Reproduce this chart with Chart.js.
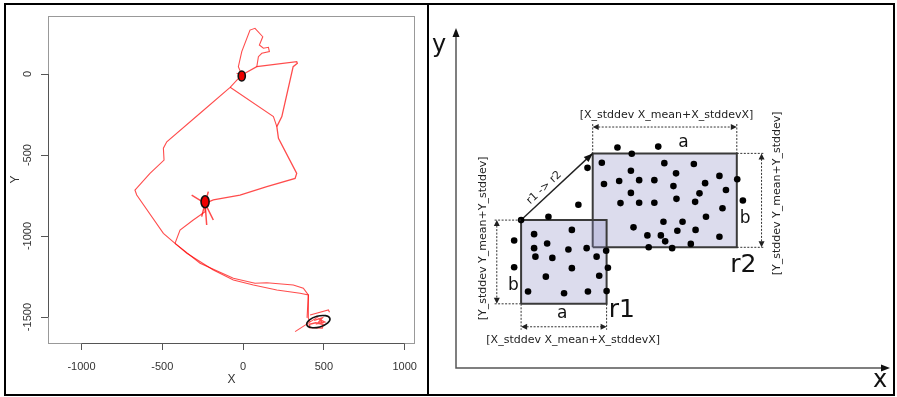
<!DOCTYPE html>
<html>
<head>
<meta charset="utf-8">
<script src="https://cdn.jsdelivr.net/npm/chart.js@4.4.1/dist/chart.umd.min.js"></script>
<style>
  body { margin: 0; background: #fff; }
  #wrap { position: relative; width: 897px; height: 397px; overflow: hidden; background: #fff; }
  #trackBox { position: absolute; left: 0; top: 0; width: 428px; height: 397px; }
  #diagramBox { position: absolute; left: 428px; top: 0; width: 469px; height: 397px; }
  .frame { position: absolute; left: 4px; top: 3px; width: 891px; height: 393px; border: 2px solid #000; box-sizing: border-box; }
  .divider { position: absolute; left: 427px; top: 3px; width: 2px; height: 393px; background: #000; }
</style>
</head>
<body>
<div id="wrap">
  <div id="trackBox"><canvas id="trackChart" width="428" height="397"></canvas></div>
  <div id="diagramBox"><canvas id="diagramChart" width="469" height="397"></canvas></div>
  <div class="frame"></div>
  <div class="divider"></div>
</div>
<script>
// ---- left panel: tracked path (X / Y units) ----
const topLoop = [[-8,-6],[-29,45],[-8,138],[43,271],[74,282],[122,230],[101,179],[126,159],[157,165],[163,138],[116,128],[95,107],[85,45]];
const eastPath = [[-8,-6],[85,45],[332,76],[336,66],[310,45],[240,-263],[209,-325],[219,-397],[332,-613],[322,-644],[147,-695],[-19,-747],[-184,-777],[-235,-798]];
const crossPath = [[-80,-82],[188,-263],[209,-325]];
const westPath = [[-8,-6],[-80,-82],[-266,-242],[-472,-418],[-493,-458],[-489,-531],[-576,-613],[-669,-716],[-658,-747],[-493,-983],[-421,-1045],[-348,-1106],[-184,-1209],[-60,-1271],[64,-1302],[209,-1333],[353,-1353],[404,-1364],[404,-1507],[415,-1530]];
const southPath = [[-421,-1045],[-266,-1168],[-60,-1261],[74,-1291],[147,-1288],[311,-1302],[373,-1322],[404,-1364],[396,-1505]];
const midBranch = [[-421,-1045],[-390,-963],[-308,-901],[-235,-850],[-235,-798]];
const midSpikes = [[-318,-747],[-235,-798],[-215,-726],[-235,-798],[-225,-932],[-235,-798],[-184,-901],[-235,-798],[-256,-880]];
const topScribble = [[-40,5],[-8,-6],[-30,-25],[-8,-6],[10,12]];
const endLines = [[322,-1590],[466,-1497]];
const endHook = [[415,-1487],[528,-1456],[535,-1470]];
const endScribble = [[440,-1520],[490,-1505],[460,-1540],[505,-1530],[475,-1515],[495,-1545],[450,-1535],[410,-1545],[412,-1565],[490,-1568],[495,-1548]];

const nodeX = [-8, -235, 466];
const nodeY = [-12, -788, -1528];
const nodeRX = [22, 25, 74];
const nodeRY = [31, 37, 34];
const nodeTilt = [0, 0, -15];
const nodeFilled = [true, true, false];

const xTicks = [-1000, -500, 0, 500, 1000];
const yTicks = [-1500, -1000, -500, 0];

// ---- right panel: two regions of points ----
const dotX = [3.72,4.66,4.05,3.36,4.80,5.48,4.03,5.07,6.07,6.48,3.41,3.76,4.22,4.57,5.01,5.74,4.03,5.61,6.22,3.79,4.22,4.57,5.08,5.51,6.61,6.14,5.76,4.78,5.22,4.09,4.41,4.72,5.10,5.52,6.07,4.82,4.44,4.98,5.41,3.03,2.82,2.13,1.50,1.80,2.67,1.34,2.10,1.80,2.59,3.01,3.46,3.24,1.83,2.22,3.50,1.34,2.67,2.07,3.30,1.66,2.49,3.04,3.47];
const dotY = [5.19,5.21,5.04,4.83,4.82,4.80,4.64,4.58,4.52,4.44,4.33,4.40,4.42,4.42,4.28,4.35,4.12,4.11,4.19,3.88,3.89,3.89,3.98,3.91,3.94,3.76,3.56,3.44,3.44,3.31,3.12,3.12,3.23,3.25,3.09,2.98,2.84,2.82,2.92,4.71,3.84,3.56,3.48,3.15,3.25,3.00,2.93,2.82,2.79,2.82,2.76,2.62,2.62,2.59,2.36,2.37,2.35,2.15,2.17,1.80,1.76,1.80,1.81];
const rectNames = ['r1', 'r2'];
const rectX0 = [1.50, 3.15];
const rectX1 = [3.47, 6.47];
const rectY0 = [1.51, 2.84];
const rectY1 = [3.48, 5.05];

const toXY = pts => pts.map(p => ({ x: p[0], y: p[1] }));

// R-like frame, rotated y labels and the region ellipses
const rFrame = {
  id: 'rFrame',
  afterDatasetsDraw(chart) {
    const { ctx, scales: { x, y } } = chart;
    ctx.save();
    for (let i = 0; i < nodeX.length; i++) {
      const cx = x.getPixelForValue(nodeX[i]);
      const cy = y.getPixelForValue(nodeY[i]);
      const rx = Math.abs(x.getPixelForValue(nodeX[i] + nodeRX[i]) - cx);
      const ry = Math.abs(y.getPixelForValue(nodeY[i] + nodeRY[i]) - cy);
      ctx.beginPath();
      ctx.ellipse(cx, cy, rx, ry, nodeTilt[i] * Math.PI / 180, 0, Math.PI * 2);
      if (nodeFilled[i]) { ctx.fillStyle = '#ee0000'; ctx.fill(); }
      ctx.lineWidth = 1.6;
      ctx.strokeStyle = '#111';
      ctx.stroke();
    }
    ctx.restore();
  },
  afterDraw(chart) {
    const { ctx, chartArea: ca, scales: { x, y } } = chart;
    ctx.save();
    ctx.strokeStyle = '#999';
    ctx.lineWidth = 1;
    ctx.strokeRect(ca.left + 0.5, ca.top + 0.5, ca.right - ca.left - 1, ca.bottom - ca.top);
    ctx.strokeStyle = '#555';
    ctx.beginPath();
    ctx.moveTo(x.getPixelForValue(xTicks[0]), ca.bottom + 0.5);
    ctx.lineTo(x.getPixelForValue(xTicks[xTicks.length - 1]), ca.bottom + 0.5);
    ctx.moveTo(ca.left + 0.5, y.getPixelForValue(yTicks[0]));
    ctx.lineTo(ca.left + 0.5, y.getPixelForValue(yTicks[yTicks.length - 1]));
    ctx.stroke();
    ctx.fillStyle = '#333';
    ctx.font = '11px "Liberation Sans", Arial, sans-serif';
    ctx.textAlign = 'center';
    ctx.textBaseline = 'middle';
    y.ticks.forEach(t => {
      ctx.save();
      ctx.translate(28, y.getPixelForValue(t.value));
      ctx.rotate(-Math.PI / 2);
      ctx.fillText(String(t.value), 0, 0);
      ctx.restore();
    });
    ctx.restore();
  }
};

const tracks = [
  { pts: topLoop, w: 1.1 }, { pts: eastPath, w: 1.3 }, { pts: crossPath, w: 1.1 },
  { pts: westPath, w: 1.1 }, { pts: southPath, w: 1.1 }, { pts: midBranch, w: 1.1 },
  { pts: midSpikes, w: 1.5 }, { pts: topScribble, w: 1.1 }, { pts: endLines, w: 1.1 },
  { pts: endHook, w: 1.1 }, { pts: endScribble, w: 1.4 }
];

new Chart(document.getElementById('trackChart'), {
  type: 'scatter',
  data: {
    datasets: tracks.map(t => ({
      data: toXY(t.pts),
      showLine: true,
      borderColor: 'rgba(255,0,0,0.7)',
      borderWidth: t.w,
      pointRadius: 0,
      tension: 0,
      fill: false
    }))
  },
  options: {
    responsive: false,
    animation: false,
    events: [],
    devicePixelRatio: 1,
    layout: { padding: { top: 16, right: 13, left: 0, bottom: 0 } },
    plugins: { legend: { display: false }, tooltip: { enabled: false } },
    scales: {
      x: {
        type: 'linear', min: -1207, max: 1064,
        afterBuildTicks: s => { s.ticks = xTicks.map(v => ({ value: v })); },
        afterFit: s => { s.height = 54; },
        ticks: { callback: v => String(v), color: '#333', padding: 10, maxRotation: 0,
                 font: { family: '"Liberation Sans", Arial, sans-serif', size: 11 } },
        grid: { drawOnChartArea: false, drawTicks: true, tickLength: 7, color: '#555' },
        border: { display: false },
        title: { display: true, text: 'X', color: '#333', padding: { top: 0, bottom: 10 },
                 font: { family: '"Liberation Sans", Arial, sans-serif', size: 12 } }
      },
      y: {
        type: 'linear', min: -1660, max: 358,
        afterBuildTicks: s => { s.ticks = yTicks.map(v => ({ value: v })); },
        afterFit: s => { s.width = 48; },
        ticks: { display: false },
        grid: { drawOnChartArea: false, drawTicks: true, tickLength: 7, color: '#555' },
        border: { display: false },
        title: { display: true, text: 'Y', color: '#333', padding: { top: 8, bottom: 0 },
                 font: { family: '"Liberation Sans", Arial, sans-serif', size: 12 } }
      }
    }
  },
  plugins: [rFrame]
});

// ---- right panel drawing helpers ----
function arrowHead(ctx, x1, y1, x2, y2, len, half) {
  const a = Math.atan2(y2 - y1, x2 - x1);
  ctx.beginPath();
  ctx.moveTo(x2, y2);
  ctx.lineTo(x2 - len * Math.cos(a) + half * Math.sin(a), y2 - len * Math.sin(a) - half * Math.cos(a));
  ctx.lineTo(x2 - len * Math.cos(a) - half * Math.sin(a), y2 - len * Math.sin(a) + half * Math.cos(a));
  ctx.closePath();
  ctx.fill();
}

function dotted(ctx, x1, y1, x2, y2) {
  ctx.beginPath();
  ctx.moveTo(x1, y1);
  ctx.lineTo(x2, y2);
  ctx.stroke();
}

const diagram = {
  id: 'diagram',
  afterDraw(chart) {
    const { ctx, chartArea: ca, scales: { x, y } } = chart;
    const px = v => x.getPixelForValue(v);
    const py = v => y.getPixelForValue(v);
    ctx.save();

    // axes with arrows
    ctx.strokeStyle = '#555';
    ctx.fillStyle = '#111';
    ctx.lineWidth = 1.5;
    ctx.beginPath();
    ctx.moveTo(ca.left, ca.top + 4);
    ctx.lineTo(ca.left, ca.bottom);
    ctx.lineTo(ca.right - 4, ca.bottom);
    ctx.stroke();
    arrowHead(ctx, ca.left, ca.bottom, ca.left, ca.top, 9, 3.5);
    arrowHead(ctx, ca.left, ca.bottom, ca.right, ca.bottom, 9, 3.5);

    // r1 -> r2 arrow head
    arrowHead(ctx, px(rectX0[0]), py(rectY1[0]), px(rectX0[1]), py(rectY1[1]), 9, 3.5);

    // dimension lines
    ctx.strokeStyle = '#333';
    ctx.lineWidth = 1;
    ctx.setLineDash([2, 1.5]);
    const topY = py(5.67), rightX = px(7.04), botY = py(0.97), leftX = px(0.94);
    dotted(ctx, px(rectX0[1]), topY - 3, px(rectX0[1]), py(rectY1[1]));
    dotted(ctx, px(rectX1[1]), topY - 3, px(rectX1[1]), py(rectY1[1]));
    dotted(ctx, px(rectX0[1]) + 2, topY, px(rectX1[1]) - 2, topY);
    dotted(ctx, px(rectX1[1]), py(rectY1[1]), rightX + 3, py(rectY1[1]));
    dotted(ctx, px(rectX1[1]), py(rectY0[1]), rightX + 3, py(rectY0[1]));
    dotted(ctx, rightX, py(rectY1[1]) + 2, rightX, py(rectY0[1]) - 2);
    dotted(ctx, px(rectX0[0]), py(rectY0[0]), px(rectX0[0]), botY + 3);
    dotted(ctx, px(rectX1[0]), py(rectY0[0]), px(rectX1[0]), botY + 3);
    dotted(ctx, px(rectX0[0]) + 2, botY, px(rectX1[0]) - 2, botY);
    dotted(ctx, px(rectX0[0]), py(rectY1[0]), leftX - 3, py(rectY1[0]));
    dotted(ctx, px(rectX0[0]), py(rectY0[0]), leftX - 3, py(rectY0[0]));
    dotted(ctx, leftX, py(rectY1[0]) + 2, leftX, py(rectY0[0]) - 2);
    ctx.setLineDash([]);
    ctx.fillStyle = '#222';
    arrowHead(ctx, px(6), topY, px(rectX0[1]), topY, 6, 3);
    arrowHead(ctx, px(4), topY, px(rectX1[1]), topY, 6, 3);
    arrowHead(ctx, rightX, py(3.5), rightX, py(rectY1[1]), 6, 3);
    arrowHead(ctx, rightX, py(4.5), rightX, py(rectY0[1]), 6, 3);
    arrowHead(ctx, px(3), botY, px(rectX0[0]), botY, 6, 3);
    arrowHead(ctx, px(2), botY, px(rectX1[0]), botY, 6, 3);
    arrowHead(ctx, leftX, py(2), leftX, py(rectY1[0]), 6, 3);
    arrowHead(ctx, leftX, py(3), leftX, py(rectY0[0]), 6, 3);

    // texts
    const sans = '"DejaVu Sans", Verdana, sans-serif';
    ctx.textAlign = 'center';
    ctx.textBaseline = 'middle';
    ctx.fillStyle = '#222';
    ctx.font = '11px ' + sans;
    ctx.fillText('[X_stddev X_mean+X_stddevX]', px(4.85), py(5.95));
    ctx.fillText('[X_stddev X_mean+X_stddevX]', px(2.70), py(0.66));
    [[7.39, 4.11], [0.62, 3.05]].forEach(p => {
      ctx.save();
      ctx.translate(px(p[0]), py(p[1]));
      ctx.rotate(-Math.PI / 2);
      ctx.fillText('[Y_stddev Y_mean+Y_stddev]', 0, 0);
      ctx.restore();
    });
    const ang = Math.atan2(py(rectY1[1]) - py(rectY1[0]), px(rectX0[1]) - px(rectX0[0]));
    ctx.save();
    ctx.translate(px(2.03), py(4.24));
    ctx.rotate(ang);
    ctx.fillText('r1 -> r2', 0, 0);
    ctx.restore();

    ctx.fillStyle = '#111';
    ctx.font = '17px ' + sans;
    ctx.fillText('a', px(5.24), py(5.30));
    ctx.fillText('a', px(2.45), py(1.29));
    ctx.fillText('b', px(6.66), py(3.52));
    ctx.fillText('b', px(1.32), py(1.95));
    ctx.font = '25px ' + sans;
    ctx.fillText(rectNames[0], px(3.82), py(1.36));
    ctx.fillText(rectNames[1], px(6.62), py(2.42));
    ctx.font = '24px ' + sans;
    ctx.fillText('y', ca.left - 17, ca.top + 18);
    ctx.fillText('x', ca.right - 10, ca.bottom + 13);
    ctx.restore();
  }
};

const rectDataset = i => ({
  data: toXY([[rectX0[i], rectY0[i]], [rectX1[i], rectY0[i]], [rectX1[i], rectY1[i]], [rectX0[i], rectY1[i]], [rectX0[i], rectY0[i]]]),
  showLine: true,
  fill: 'shape',
  backgroundColor: 'rgba(139,139,197,0.3)',
  borderColor: '#3a3a3a',
  borderWidth: 2,
  pointRadius: 0,
  tension: 0
});

new Chart(document.getElementById('diagramChart'), {
  type: 'scatter',
  data: {
    datasets: [
      { data: dotX.map((v, i) => ({ x: v, y: dotY[i] })), pointRadius: 3.3, backgroundColor: '#000', borderWidth: 0 },
      { data: toXY([[rectX0[0], rectY1[0]], [rectX0[1], rectY1[1]]]), showLine: true, borderColor: '#222', borderWidth: 1.4, pointRadius: 0 },
      rectDataset(0),
      rectDataset(1)
    ]
  },
  options: {
    responsive: false,
    animation: false,
    events: [],
    devicePixelRatio: 1,
    layout: { padding: { left: 28, right: 7, top: 28, bottom: 29 } },
    plugins: { legend: { display: false }, tooltip: { enabled: false } },
    scales: {
      x: { type: 'linear', min: 0, max: 10, display: false },
      y: { type: 'linear', min: 0, max: 8, display: false }
    }
  },
  plugins: [diagram]
});
</script>
</body>
</html>
